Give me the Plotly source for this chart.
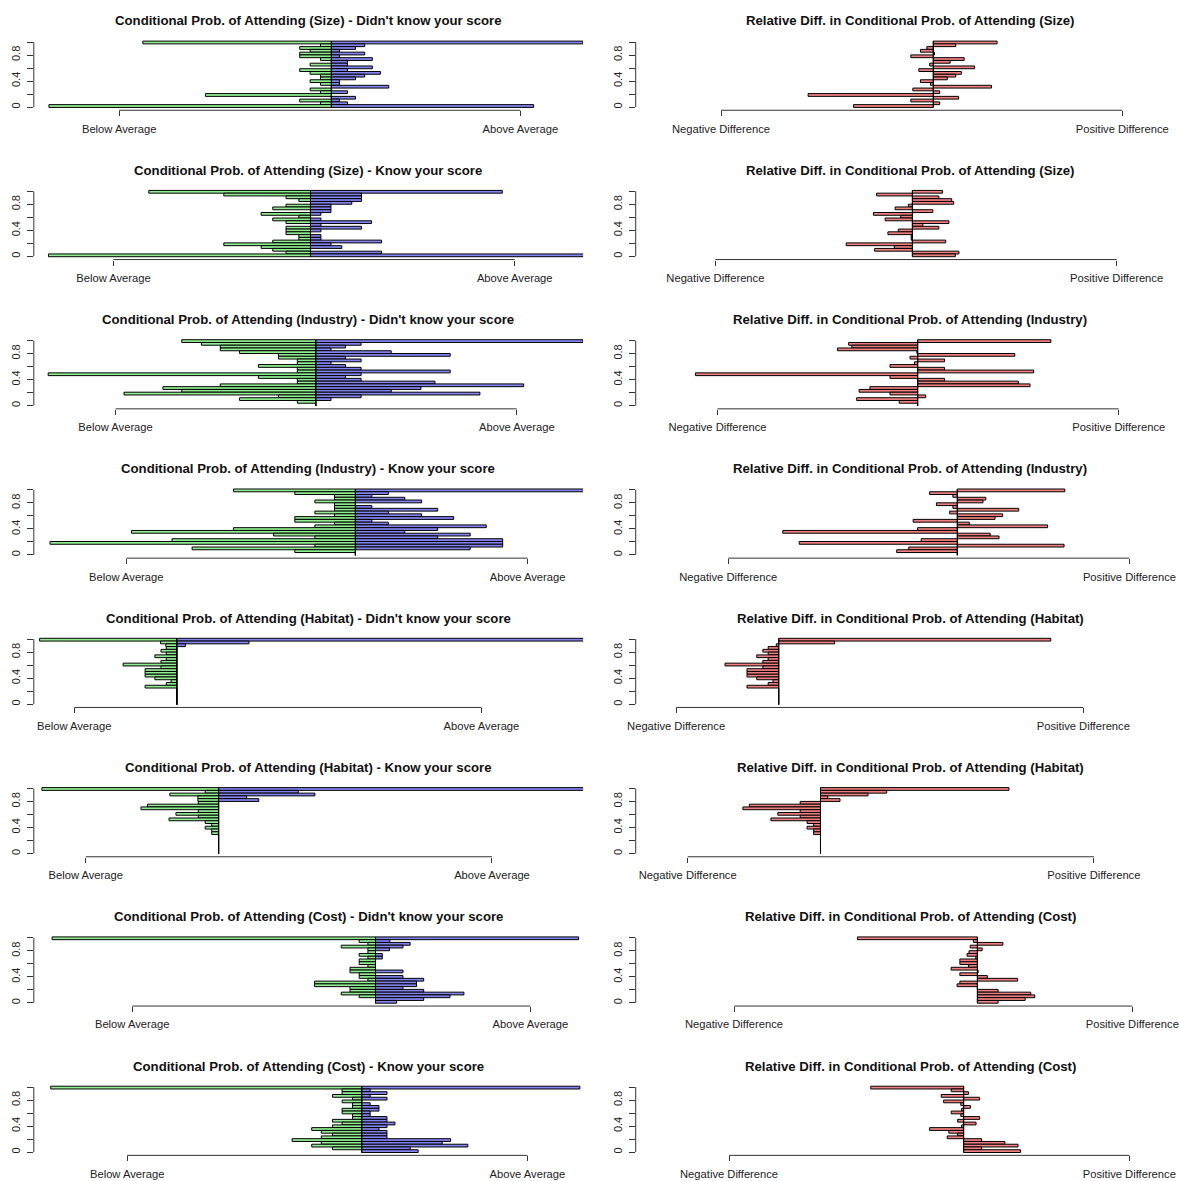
import plotly.graph_objects as go

# ---------------- data (all bar lists run from top bar to bottom bar) ----------------
score_levels = [0.9925, 0.950, 0.9075, 0.865, 0.8225, 0.780, 0.7375, 0.695, 0.6525, 0.610,
                0.5675, 0.525, 0.4825, 0.440, 0.3975, 0.355, 0.3125, 0.270, 0.2275, 0.185,
                0.1425, 0.100, 0.0575, 0.015]

left_titles = [
    "Conditional Prob. of Attending (Size) - Didn't know your score",
    "Conditional Prob. of Attending (Size) - Know your score",
    "Conditional Prob. of Attending (Industry) - Didn't know your score",
    "Conditional Prob. of Attending (Industry) - Know your score",
    "Conditional Prob. of Attending (Habitat) - Didn't know your score",
    "Conditional Prob. of Attending (Habitat) - Know your score",
    "Conditional Prob. of Attending (Cost) - Didn't know your score",
    "Conditional Prob. of Attending (Cost) - Know your score",
]
right_titles = [
    "Relative Diff. in Conditional Prob. of Attending (Size)",
    "Relative Diff. in Conditional Prob. of Attending (Size)",
    "Relative Diff. in Conditional Prob. of Attending (Industry)",
    "Relative Diff. in Conditional Prob. of Attending (Industry)",
    "Relative Diff. in Conditional Prob. of Attending (Habitat)",
    "Relative Diff. in Conditional Prob. of Attending (Habitat)",
    "Relative Diff. in Conditional Prob. of Attending (Cost)",
    "Relative Diff. in Conditional Prob. of Attending (Cost)",
]
left_tick_labels = ["Below Average", "Above Average"]
right_tick_labels = ["Negative Difference", "Positive Difference"]
y_tick_values = [0, 0.2, 0.4, 0.6, 0.8, 1.0]
y_tick_labels = ["0", "", "0.4", "", "0.8", ""]

# average (centre) of each row, in axis units (Below Average tick = 0, Above Average tick = 1)
centers = [0.529, 0.491, 0.499, 0.571, 0.252, 0.327, 0.611, 0.586]

below_size_dk = [0.470, 0.027, 0.079, 0.053, 0.079, 0.079, 0.027, 0.000, 0.053, 0.000, 0.079, 0.053,
                 0.027, 0.027, 0.053, 0.027, 0.000, 0.053, 0.027, 0.314, 0.000, 0.079, 0.027, 0.704]
above_size_dk = [0.627, 0.083, 0.060, 0.020, 0.083, 0.020, 0.102, 0.040, 0.040, 0.102, 0.040, 0.122,
                 0.083, 0.060, 0.020, 0.020, 0.143, 0.000, 0.040, 0.000, 0.060, 0.020, 0.040, 0.504]
diff_size_dk = [0.159, 0.056, -0.016, -0.032, 0.003, -0.056, 0.077, 0.042, -0.009, 0.103, -0.036, 0.070,
                0.056, 0.035, -0.032, -0.007, 0.145, -0.051, 0.016, -0.312, 0.063, -0.056, 0.016, -0.199]

below_size_k = [0.403, 0.216, 0.061, 0.029, 0.000, 0.061, 0.094, 0.000, 0.123, 0.029, 0.094, 0.061,
                0.000, 0.061, 0.061, 0.061, 0.029, 0.029, 0.094, 0.216, 0.123, 0.094, 0.061, 0.653]
above_size_k = [0.478, 0.127, 0.127, 0.127, 0.103, 0.051, 0.051, 0.051, 0.026, 0.000, 0.026, 0.152,
                0.026, 0.127, 0.026, 0.000, 0.026, 0.026, 0.177, 0.051, 0.078, 0.000, 0.177, 0.760]
diff_size_k = [0.075, -0.089, 0.066, 0.098, 0.103, -0.010, -0.043, 0.051, -0.097, -0.029, -0.068, 0.091,
               0.026, 0.066, -0.035, -0.061, -0.003, -0.003, 0.083, -0.165, -0.045, -0.094, 0.116, 0.107]

below_ind_dk = [0.334, 0.285, 0.238, 0.238, 0.190, 0.093, 0.093, 0.046, 0.046, 0.143, 0.046, 0.046,
                0.667, 0.143, 0.046, 0.046, 0.238, 0.381, 0.334, 0.478, 0.093, 0.190, 0.046, 0.000]
above_ind_dk = [0.666, 0.113, 0.074, 0.038, 0.188, 0.335, 0.074, 0.113, 0.038, 0.074, 0.113, 0.335,
                0.113, 0.074, 0.113, 0.297, 0.518, 0.262, 0.188, 0.409, 0.113, 0.038, 0.000, 0.000]
diff_ind_dk = [0.332, -0.172, -0.164, -0.200, -0.002, 0.242, -0.019, 0.067, -0.008, -0.069, 0.067, 0.289,
               -0.554, -0.069, 0.067, 0.251, 0.280, -0.119, -0.146, -0.069, 0.020, -0.152, -0.046, 0.000]

below_ind_k = [0.304, 0.151, 0.052, 0.052, 0.101, 0.052, 0.052, 0.052, 0.101, 0.052, 0.151, 0.151,
               0.052, 0.101, 0.304, 0.558, 0.204, 0.101, 0.457, 0.761, 0.101, 0.407, 0.151, 0.000]
above_ind_k = [0.572, 0.082, 0.041, 0.123, 0.165, 0.000, 0.041, 0.205, 0.082, 0.165, 0.245, 0.041,
               0.082, 0.326, 0.205, 0.123, 0.286, 0.205, 0.367, 0.367, 0.367, 0.286, 0.000, 0.000]
diff_ind_k = [0.268, -0.069, -0.011, 0.071, 0.064, -0.052, -0.011, 0.153, -0.019, 0.113, 0.094, -0.110,
              0.030, 0.225, -0.099, -0.435, 0.082, 0.104, -0.090, -0.394, 0.266, -0.121, -0.151, 0.000]

below_hab_dk = [0.337, 0.040, 0.027, 0.026, 0.039, 0.026, 0.054, 0.026, 0.039, 0.132, 0.039, 0.078,
                0.078, 0.078, 0.054, 0.014, 0.026, 0.078, 0.000, 0.000, 0.000, 0.000, 0.000, 0.000]
above_hab_dk = [1.005, 0.177, 0.021, 0.000, 0.000, 0.000, 0.000, 0.000, 0.000, 0.000, 0.000, 0.000,
                0.000, 0.000, 0.000, 0.000, 0.000, 0.000, 0.000, 0.000, 0.000, 0.000, 0.000, 0.000]
diff_hab_dk = [0.668, 0.137, -0.006, -0.026, -0.039, -0.026, -0.054, -0.026, -0.039, -0.132, -0.039, -0.078,
               -0.078, -0.078, -0.054, -0.014, -0.026, -0.078, 0.000, 0.000, 0.000, 0.000, 0.000, 0.000]

below_hab_k = [0.435, 0.033, 0.120, 0.051, 0.051, 0.050, 0.175, 0.191, 0.050, 0.105, 0.050, 0.122,
               0.033, 0.017, 0.033, 0.017, 0.017, 0.000, 0.000, 0.000, 0.000, 0.000, 0.000, 0.000]
above_hab_k = [0.899, 0.196, 0.237, 0.069, 0.099, 0.000, 0.000, 0.000, 0.000, 0.000, 0.000, 0.000,
               0.000, 0.000, 0.000, 0.000, 0.000, 0.000, 0.000, 0.000, 0.000, 0.000, 0.000, 0.000]
diff_hab_k = [0.464, 0.163, 0.117, 0.018, 0.048, -0.050, -0.175, -0.191, -0.050, -0.105, -0.050, -0.122,
              -0.033, -0.017, -0.033, -0.017, -0.017, 0.000, 0.000, 0.000, 0.000, 0.000, 0.000, 0.000]

below_cost_dk = [0.812, 0.041, 0.019, 0.086, 0.019, 0.019, 0.041, 0.019, 0.041, 0.041, 0.019, 0.064,
                 0.064, 0.041, 0.041, 0.019, 0.153, 0.153, 0.064, 0.064, 0.086, 0.041, 0.000, 0.000]
above_cost_dk = [0.510, 0.036, 0.087, 0.069, 0.035, 0.000, 0.017, 0.017, 0.000, 0.000, 0.000, 0.000,
                 0.069, 0.000, 0.069, 0.121, 0.103, 0.103, 0.069, 0.121, 0.222, 0.187, 0.121, 0.053]
diff_cost_dk = [-0.301, -0.010, 0.064, -0.018, 0.012, -0.021, -0.026, -0.004, -0.044, -0.044, -0.022, -0.066,
                0.002, -0.044, 0.025, 0.101, -0.044, -0.051, 0.000, 0.052, 0.134, 0.144, 0.120, 0.052]

below_cost_k = [0.777, 0.049, 0.049, 0.073, 0.023, 0.049, 0.023, 0.023, 0.049, 0.049, 0.023, 0.023,
                0.073, 0.049, 0.073, 0.125, 0.101, 0.073, 0.101, 0.174, 0.101, 0.125, 0.073, 0.000]
above_cost_k = [0.545, 0.021, 0.063, 0.021, 0.063, 0.000, 0.021, 0.043, 0.043, 0.021, 0.021, 0.063,
                0.063, 0.083, 0.063, 0.043, 0.063, 0.063, 0.063, 0.222, 0.201, 0.265, 0.121, 0.141]
diff_cost_k = [-0.232, -0.031, 0.012, -0.056, 0.040, -0.050, -0.007, 0.017, -0.005, -0.031, -0.007, 0.040,
               -0.015, 0.031, -0.005, -0.085, -0.037, -0.015, -0.041, 0.045, 0.103, 0.136, 0.045, 0.142]

below_rows = [below_size_dk, below_size_k, below_ind_dk, below_ind_k,
              below_hab_dk, below_hab_k, below_cost_dk, below_cost_k]
above_rows = [above_size_dk, above_size_k, above_ind_dk, above_ind_k,
              above_hab_dk, above_hab_k, above_cost_dk, above_cost_k]
diff_rows = [diff_size_dk, diff_size_k, diff_ind_dk, diff_ind_k,
             diff_hab_dk, diff_hab_k, diff_cost_dk, diff_cost_k]

# ---------------- layout / style ----------------
W, H = 1179, 1181
ROW_H = 149.3            # px between rows
PX_PER_Y = 65.0          # px for y from 0 to 1
LEFT_X0, LEFT_X1 = 26.0, 579.0
COL_SHIFT = 606.0
Y1_PX = 42.0             # pixel of y = 1 in the first row
YPAD = 0.05
BAR_H = 0.0425
below_tick_px = [111.9, 106.2, 108.3, 119.1, 66.7, 78.3, 125.0, 120.0]
tick_span_px = [404.0, 404.0, 404.0, 404.0, 410.0, 409.0, 401.0, 403.0]

GREEN = "#90EE90"
BLUE = "#8484F0"
RED = "#F08080"
AXIS_COL = "#333333"
TEXT_COL = "#222222"
FONT = "Liberation Sans, Arial, sans-serif"

fig = go.Figure()
layout = dict(width=W, height=H, margin=dict(l=0, r=0, t=0, b=0),
              paper_bgcolor="white", plot_bgcolor="white",
              barmode="overlay", showlegend=False, font=dict(family=FONT, color=TEXT_COL))
shapes = []
annotations = []

bar_line = dict(color="black", width=1)

for k in range(8):
    ytop_px = Y1_PX + k * ROW_H - YPAD * PX_PER_Y
    ybot_px = Y1_PX + k * ROW_H + (1 + YPAD) * PX_PER_Y
    ydom = [1 - ybot_px / H, 1 - ytop_px / H]
    t0 = below_tick_px[k]
    span = tick_span_px[k]
    xmin = (LEFT_X0 - t0) / span
    c = centers[k]
    for col in range(2):
        p = 2 * k + col + 1
        xn = "x" if p == 1 else f"x{p}"
        yn = "y" if p == 1 else f"y{p}"
        xkey = "xaxis" if p == 1 else f"xaxis{p}"
        ykey = "yaxis" if p == 1 else f"yaxis{p}"
        x0px = LEFT_X0 + col * COL_SHIFT
        x1px_full = LEFT_X1 + col * COL_SHIFT
        x1px = min(x1px_full, W)
        xmax = (x1px - col * COL_SHIFT - t0) / span

        if col == 0:
            fig.add_trace(go.Bar(y=score_levels, x=[-v for v in below_rows[k]], base=c,
                                 orientation="h", width=BAR_H,
                                 marker=dict(color=GREEN, line=bar_line),
                                 xaxis=xn, yaxis=yn, hoverinfo="skip"))
            fig.add_trace(go.Bar(y=score_levels, x=above_rows[k], base=c,
                                 orientation="h", width=BAR_H,
                                 marker=dict(color=BLUE, line=bar_line),
                                 xaxis=xn, yaxis=yn, hoverinfo="skip"))
            ticktext = left_tick_labels
            title = left_titles[k]
        else:
            fig.add_trace(go.Bar(y=score_levels, x=diff_rows[k], base=c,
                                 orientation="h", width=BAR_H,
                                 marker=dict(color=RED, line=bar_line),
                                 xaxis=xn, yaxis=yn, hoverinfo="skip"))
            ticktext = right_tick_labels
            title = right_titles[k]
        # centre line (borders of the bars at the average)
        fig.add_trace(go.Scatter(x=[c, c],
                                 y=[min(score_levels) - BAR_H / 2, max(score_levels) + BAR_H / 2],
                                 mode="lines", line=dict(color="black", width=1),
                                 xaxis=xn, yaxis=yn, hoverinfo="skip"))

        layout[xkey] = dict(domain=[x0px / W, x1px / W], range=[xmin, xmax], anchor=yn,
                            tickmode="array", tickvals=[0, 1], ticktext=ticktext,
                            ticks="outside", ticklen=5, tickwidth=1, tickcolor=AXIS_COL,
                            ticklabelstandoff=3, ticklabeloverflow="allow",
                            showline=False, showgrid=False, zeroline=False,
                            tickfont=dict(size=11.2, family=FONT, color=TEXT_COL),
                            fixedrange=True)
        layout[ykey] = dict(domain=ydom, range=[-YPAD, 1 + YPAD], anchor=xn,
                            tickmode="array", tickvals=y_tick_values, ticktext=y_tick_labels,
                            tickangle=-90, ticks="outside", ticklen=6, tickwidth=1,
                            tickcolor=AXIS_COL, ticklabelstandoff=2,
                            showline=False, showgrid=False, zeroline=False,
                            tickfont=dict(size=11.0, family=FONT, color=TEXT_COL),
                            fixedrange=True)
        # R-style axis lines running only between the first and last tick
        shapes.append(dict(type="line", xref=f"{xn} domain", yref=yn, x0=0, x1=0,
                           y0=y_tick_values[0], y1=y_tick_values[-1],
                           line=dict(color=AXIS_COL, width=1)))
        shapes.append(dict(type="line", xref=xn, yref=f"{yn} domain", x0=0, x1=1, y0=0, y1=0,
                           line=dict(color=AXIS_COL, width=1)))
        annotations.append(dict(text=f"<b>{title}</b>", xref="paper", yref="paper",
                                x=((x0px + x1px_full) / 2) / W,
                                y=1 - (21 + k * ROW_H) / H,
                                xanchor="center", yanchor="middle", showarrow=False,
                                font=dict(size=13.2, family=FONT, color="#111111")))

layout["shapes"] = shapes
layout["annotations"] = annotations
fig.update_layout(**layout)

fig.write_html("out.html", config={"displayModeBar": False},
               post_script="document.body.style.margin='0px';")
